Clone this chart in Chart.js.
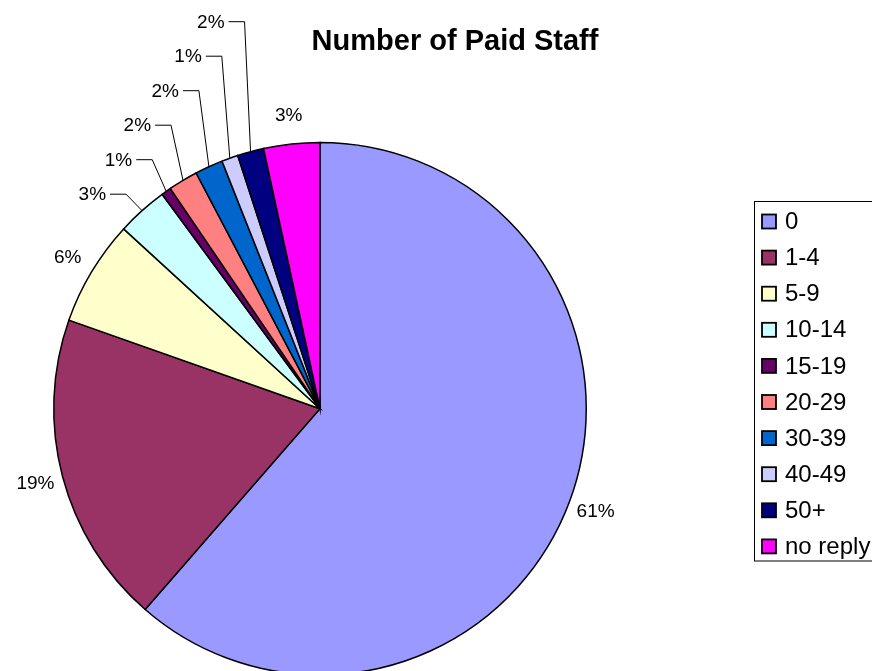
<!DOCTYPE html>
<html>
<head>
<meta charset="utf-8">
<script src="https://cdn.jsdelivr.net/npm/chart.js@4"></script>
<style>
  html, body { margin: 0; padding: 0; background: #fff; overflow: hidden; }
  #wrap { position: relative; width: 872px; height: 671px; overflow: hidden; }
  canvas { display: block; }
</style>
</head>
<body>
<div id="wrap"><canvas id="c" width="872" height="680"></canvas></div>
<script>
const chartTitle = 'Number of Paid Staff';
const categories = ['0', '1-4', '5-9', '10-14', '15-19', '20-29', '30-39', '40-49', '50+', 'no reply'];
const shares = [61.4, 19.0, 6.4, 3.1, 0.6, 1.8, 1.7, 1.0, 1.6, 3.4];
const sliceColors = ['#9999FF', '#993366', '#FFFFCC', '#CCFFFF', '#660066', '#FF8080', '#0066CC', '#CCCCFF', '#000080', '#FF00FF'];
const calloutCategories = ['10-14', '15-19', '20-29', '30-39', '40-49', '50+'];

const FONT = '"Liberation Sans", Arial, Helvetica, sans-serif';

const overlay = {
  id: 'overlay',
  afterDraw(chart) {
    const ctx = chart.ctx;
    const meta = chart.getDatasetMeta(0);
    const total = shares.reduce((a, b) => a + b, 0);
    ctx.save();

    // Title
    ctx.fillStyle = '#000';
    ctx.font = 'bold 29px ' + FONT;
    ctx.textAlign = 'center';
    ctx.textBaseline = 'alphabetic';
    ctx.fillText(chartTitle, 455, 50);

    // Data labels
    ctx.font = '19px ' + FONT;
    const callouts = [];
    meta.data.forEach((arc, i) => {
      const p = arc.getProps(['x', 'y', 'startAngle', 'endAngle', 'outerRadius'], true);
      const mid = (p.startAngle + p.endAngle) / 2;
      const txt = Math.round(shares[i] / total * 100) + '%';
      if (calloutCategories.includes(categories[i])) {
        callouts.push({ i, p, mid, txt });
      } else {
        const r = p.outerRadius + 28;
        ctx.textAlign = 'center';
        ctx.textBaseline = 'middle';
        ctx.fillText(txt, p.x + Math.cos(mid) * r, p.y + Math.sin(mid) * r);
      }
    });
    // callouts stacked from the last slice upward
    callouts.reverse().forEach((c, rank) => {
      const rimX = c.p.x + Math.cos(c.mid) * c.p.outerRadius;
      const rimY = c.p.y + Math.sin(c.mid) * c.p.outerRadius;
      const ey = 21.7 + 34.5 * rank;
      const ex = rimX - (6 + 2 * rank);
      ctx.strokeStyle = '#000';
      ctx.lineWidth = 1;
      ctx.beginPath();
      ctx.moveTo(ex - 16, ey);
      ctx.lineTo(ex, ey);
      ctx.lineTo(rimX, rimY);
      ctx.stroke();
      ctx.textAlign = 'right';
      ctx.textBaseline = 'middle';
      ctx.fillText(c.txt, ex - 20, ey + 1);
    });

    // Legend
    const lx = 754, ly = 201.5, lb = 561;
    ctx.strokeStyle = '#000';
    ctx.lineWidth = 1;
    ctx.strokeRect(lx + 0.5, ly, 200, lb - ly);
    ctx.font = '24px ' + FONT;
    ctx.textAlign = 'left';
    ctx.textBaseline = 'middle';
    categories.forEach((name, i) => {
      const cy = 221.5 + 36.1 * i;
      ctx.fillStyle = sliceColors[i];
      ctx.fillRect(762, cy - 7, 14, 14);
      ctx.lineWidth = 1.8;
      ctx.strokeStyle = '#000';
      ctx.strokeRect(762, cy - 7, 14, 14);
      ctx.fillStyle = '#000';
      ctx.fillText(name, 785, cy + 1);
    });
    ctx.restore();
  }
};

new Chart(document.getElementById('c'), {
  type: 'pie',
  data: {
    labels: categories,
    datasets: [{
      data: shares,
      backgroundColor: sliceColors,
      borderColor: '#000',
      borderWidth: 1.5,
      borderJoinStyle: 'miter'
    }]
  },
  options: {
    responsive: false,
    animation: false,
    devicePixelRatio: 1,
    layout: { padding: { left: 53, top: 141.7, right: 285, bottom: 4.3 } },
    plugins: {
      legend: { display: false },
      title: { display: false },
      tooltip: { enabled: false }
    }
  },
  plugins: [overlay]
});
</script>
</body>
</html>
